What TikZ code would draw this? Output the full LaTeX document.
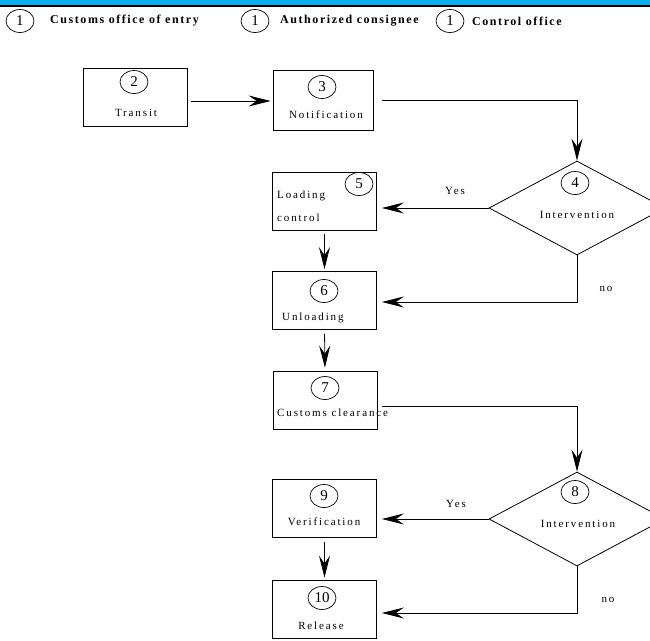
\documentclass[tikz,border=0pt]{standalone}
\usepackage{fontspec}
\setmainfont{Liberation Serif}
\newfontfamily\spaced[LetterSpace=17]{Liberation Serif}
\newfontfamily\legendfont[LetterSpace=13]{Liberation Serif}
\usetikzlibrary{shapes.geometric,arrows.meta}
\definecolor{topblue}{RGB}{0,176,240}
\tikzset{
  box/.style={draw, line width=0.8pt, inner sep=0pt},
  num/.style={draw, ellipse, line width=0.7pt, minimum width=28pt, minimum height=23pt, inner sep=0pt, font=\fontsize{15}{15}\selectfont},
  lbl/.style={inner sep=0pt, font=\spaced\fontsize{11}{13}\selectfont},
  leg/.style={inner sep=0pt, anchor=west, font=\legendfont\bfseries\fontsize{12}{14}\selectfont},
  dia/.style={draw, diamond, line width=0.8pt, minimum width=176pt, minimum height=94pt, inner sep=0pt},
  arr/.style={-{Stealth[length=22pt,width=11pt,inset=8pt]}, line width=0.8pt}
}
\begin{document}
\begin{tikzpicture}[x=1pt,y=-1pt]
\useasboundingbox (0,0) rectangle (650,640);
\clip (0,0) rectangle (650,640);
% top bar
\fill[topblue] (0,0) rectangle (650,4.5);
\fill[black] (0,4.5) rectangle (650,7);
% legend
\node[num] (l1) at (20,21) {1};
\node[leg] (t1) at (50,21) {Customs office of entry};
\node[num] (l2) at (255,21) {1};
\node[leg] (t2) at (280,21) {Authorized consignee};
\node[num] (l3) at (450,21) {1};
\node[leg] (t3) at (472,21) {Control office};
% boxes
\node[box, minimum width=104pt, minimum height=58pt] (b2) at (135,97) {};
\node[box, minimum width=100pt, minimum height=60pt] (b3) at (323,100) {};
\node[box, minimum width=104pt, minimum height=58pt] (b5) at (324.5,201) {};
\node[box, minimum width=104pt, minimum height=58pt] (b6) at (324.5,300.5) {};
\node[box, minimum width=104pt, minimum height=58pt] (b7) at (325,400) {};
\node[box, minimum width=104pt, minimum height=58pt] (b9) at (324.5,508) {};
\node[box, minimum width=104pt, minimum height=58pt] (b10) at (324.5,609) {};
\node[dia] (d4) at (577,208) {};
\node[dia] (d8) at (577,519) {};
% numbers
\node[num] (n2) at (134,82) {2};
\node[num] (n3) at (322,87) {3};
\node[num] (n4) at (575,183) {4};
\node[num] (n5) at (359,184) {5};
\node[num] (n6) at (324,291) {6};
\node[num] (n7) at (325,388) {7};
\node[num] (n8) at (575,492) {8};
\node[num] (n9) at (324,496) {9};
\node[num] (n10) at (322,598) {10};
% texts
\node[lbl] (x2) at (136,113) {Transit};
\node[lbl] (x3) at (326,115) {Notification};
\node[lbl, anchor=west] (x5a) at (277,196) {Loading};
\node[lbl, anchor=west] (x5b) at (277,218) {control};
\node[lbl, anchor=west] (x6) at (282,318) {Unloading};
\node[lbl, anchor=west] (x7) at (277,413) {Customs clearance};
\node[lbl] (x9) at (324,522) {Verification};
\node[lbl] (x10) at (321,626) {Release};
\node[lbl] (x4) at (577,215) {Intervention};
\node[lbl] (x8) at (578,524) {Intervention};
\node[lbl] (y4) at (455,191) {Yes};
\node[lbl] (y8) at (456,504) {Yes};
\node[lbl] (no4) at (606,289) {no};
\node[lbl] (no8) at (608,600) {no};
% connectors
\coordinate (c3) at (577,100);
\coordinate (c4) at (577,302);
\coordinate (c7) at (577,406);
\coordinate (c8) at (577,613);
\draw[arr, shorten <=4pt, shorten >=2pt] (b2.east |- 0,101) -- (b3.west |- 0,101);
\draw[arr, shorten <=9pt] (b3.east |- c3) -- (c3) -- (d4.north);
\draw[arr, shorten >=5pt] (d4.west) -- (b5.east |- d4.west);
\draw[arr, shorten <=4pt, shorten >=2pt] (b5.south) -- (b6.north);
\draw[arr, shorten >=5pt] (d4.south) -- (c4) -- (b6.east |- c4);
\draw[arr, shorten <=4pt, shorten >=3pt] (b6.south) -- (b7.north);
\draw[arr, shorten <=5pt] (b7.east |- c7) -- (c7) -- (d8.north);
\draw[arr, shorten >=5pt] (d8.west) -- (b9.east |- d8.west);
\draw[arr, shorten <=5pt, shorten >=2pt] (b9.south) -- (b10.north);
\draw[arr, shorten >=5pt] (d8.south) -- (c8) -- (b10.east |- c8);
\end{tikzpicture}
\end{document}
